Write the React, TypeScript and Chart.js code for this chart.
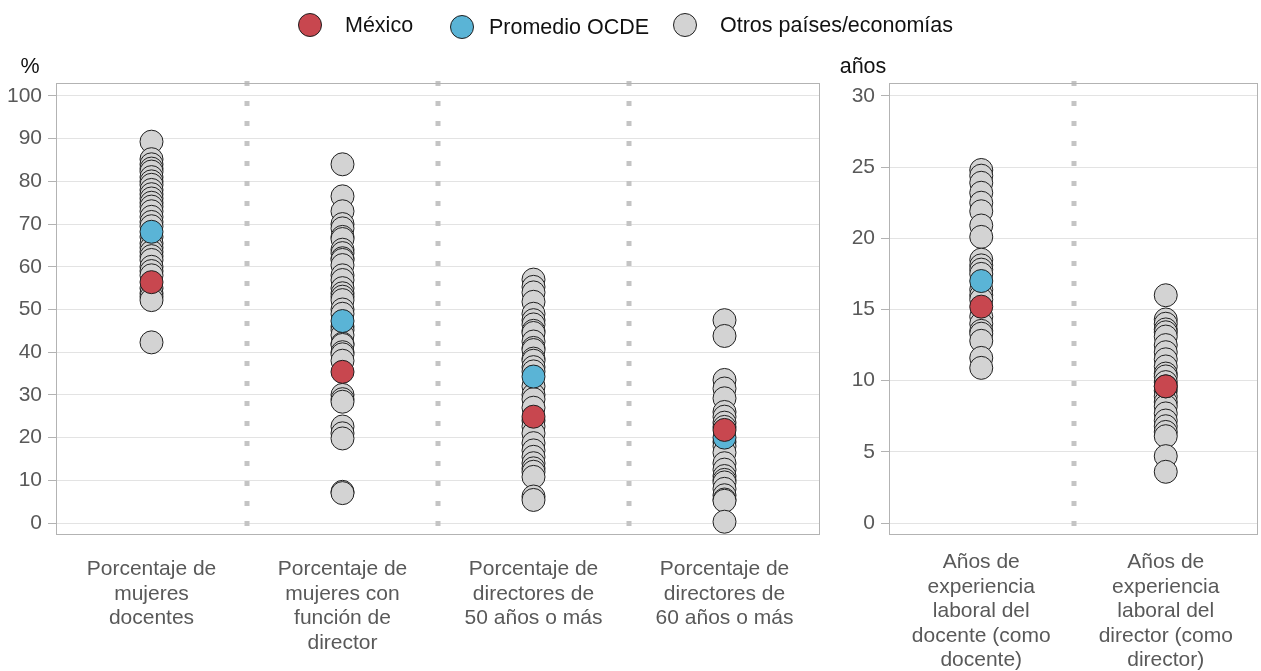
import React, { useEffect, useRef } from 'react';
import { Chart, registerables } from 'chart.js';

Chart.register(...registerables);

const FONT = "'Liberation Sans', Arial, Helvetica, sans-serif";

const seriesNames = ['México', 'Promedio OCDE', 'Otros países/economías'];
const seriesColors = ['#c8474f', '#5ab4d6', '#d3d3d3'];

const leftCategories = [
  ['Porcentaje de', 'mujeres', 'docentes'],
  ['Porcentaje de', 'mujeres con', 'función de', 'director'],
  ['Porcentaje de', 'directores de', '50 años o más'],
  ['Porcentaje de', 'directores de', '60 años o más'],
];
const rightCategories = [
  ['Años de', 'experiencia', 'laboral del', 'docente (como', 'docente)'],
  ['Años de', 'experiencia', 'laboral del', 'director (como', 'director)'],
];

const leftTicks = [0, 10, 20, 30, 40, 50, 60, 70, 80, 90, 100];
const rightTicks = [0, 5, 10, 15, 20, 25, 30];

const mexicoLeft = [56.4, 35.4, 24.9, 21.8];
const ocdeLeft = [68.2, 47.3, 34.3, 20.0];
const mexicoRight = [15.2, 9.6];
const ocdeRight = [17.0, 9.6];

const otrosDocentesMujeres = [89.3, 85.2, 84, 83, 82.3, 81, 80, 79.2, 78, 77, 76, 75, 74.1, 73, 71.7, 70.5, 69.5, 67, 65.5, 64.5, 63.5, 62.5, 61.6, 60, 59, 58, 55, 53.8, 53, 52.2, 42.3];
const otrosDirectorasMujeres = [84, 76.5, 73, 70, 69, 67, 66.5, 64, 63.2, 62, 61.6, 60.4, 58, 56.9, 55, 53.8, 53, 52.2, 50, 49, 46, 45.2, 44, 42, 41.7, 40, 39.5, 38, 30, 29, 28.4, 22.6, 21, 19.8, 7.3, 7];
const otrosDirectores50 = [57, 55.3, 54, 51.8, 49, 47.5, 46.5, 45, 44.5, 42.5, 41, 40.5, 38.5, 38, 36.5, 35.5, 32, 30, 29, 27, 24, 22.6, 21, 18.7, 17, 15.5, 14, 12.8, 12, 10.8, 6.2, 5.4];
const otrosDirectores60 = [47.5, 43.8, 33.5, 31.5, 29.2, 26, 24.9, 23.5, 22.5, 19, 18, 16.5, 14, 12.5, 11, 10.1, 9.5, 8, 6.5, 5.5, 5.2, 0.3];
const otrosExpDocente = [24.8, 24.4, 23.9, 23.2, 22.5, 21.9, 20.9, 20.1, 18.5, 18.1, 17.8, 17.5, 16.4, 16.0, 15.7, 14.5, 14.0, 13.5, 13.3, 12.8, 11.6, 10.9];
const otrosExpDirector = [16.0, 14.3, 14.0, 13.6, 13.4, 13.1, 12.5, 12.0, 11.5, 11.0, 10.5, 10.3, 9.9, 9.3, 8.9, 8.5, 8.2, 7.7, 7.2, 6.8, 6.4, 6.1, 4.7, 3.6];

const leftUnit = '%';
const rightUnit = 'años';

const panelDeco = {
  id: 'panelDeco',
  beforeDatasetsDraw(chart: any, _args: any, opts: any) {
    const { ctx, chartArea: a, scales } = chart;
    const x = scales.x;
    ctx.save();
    ctx.strokeStyle = '#c4c4c4';
    ctx.lineWidth = 5;
    ctx.setLineDash([5, 15]);
    for (let i = 0; i < opts.n - 1; i++) {
      const px = Math.round(x.getPixelForValue(i + 0.5));
      ctx.beginPath();
      ctx.moveTo(px, a.top - 2);
      ctx.lineTo(px, a.bottom);
      ctx.stroke();
    }
    ctx.setLineDash([]);
    ctx.strokeStyle = '#b3b3b3';
    ctx.lineWidth = 1;
    ctx.strokeRect(Math.round(a.left) + 0.5, Math.round(a.top) + 0.5, Math.round(a.right - a.left) - 1, Math.round(a.bottom - a.top) - 1);
    ctx.restore();
  },
  afterDraw(chart: any, _args: any, opts: any) {
    const { ctx, chartArea: a } = chart;
    ctx.save();
    ctx.fillStyle = '#111';
    ctx.font = `21.5px ${FONT}`;
    ctx.textAlign = 'center';
    ctx.textBaseline = 'middle';
    ctx.fillText(opts.unit, a.left - 26, a.top - 16);
    ctx.restore();
  },
};

function buildChart(canvas: HTMLCanvasElement, p: any) {
  const toPts = (vals: number[]) => vals.map((v, i) => ({ x: i, y: v }));
  const otrosPts = p.otros.flatMap((col: number[], i: number) => col.map((v) => ({ x: i, y: v })));
  const ds = (idx: number, data: any[]) => ({
    label: seriesNames[idx],
    data,
    backgroundColor: seriesColors[idx],
    borderColor: '#1f1f1f',
    borderWidth: 1,
    pointRadius: 11.5,
    pointHoverRadius: 11.5,
  });
  return new Chart(canvas, {
    type: 'scatter',
    data: {
      datasets: [ds(0, toPts(p.mexico)), ds(1, toPts(p.ocde)), ds(2, otrosPts)],
    },
    options: {
      responsive: false,
      animation: false,
      devicePixelRatio: 1,
      events: [],
      layout: { autoPadding: false, padding: { top: p.padTop, right: p.padRight, left: 0, bottom: 0 } },
      plugins: {
        legend: { display: false },
        tooltip: { enabled: false },
        panelDeco: { n: p.categories.length, unit: p.unit },
      } as any,
      scales: {
        x: {
          type: 'linear',
          min: -0.5,
          max: p.categories.length - 0.5,
          afterBuildTicks: (s: any) => {
            s.ticks = p.categories.map((_: any, i: number) => ({ value: i }));
          },
          afterFit: (s: any) => {
            s.height = p.xHeight;
            s.paddingLeft = 0;
            s.paddingRight = 0;
          },
          ticks: {
            autoSkip: false,
            maxRotation: 0,
            minRotation: 0,
            padding: p.xPad,
            color: '#595959',
            font: { family: FONT, size: 21, lineHeight: 1.17 },
            callback: (_v: any, i: number) => p.categories[i],
          },
          grid: { display: false, drawTicks: false },
          border: { display: false },
        },
        y: {
          min: p.yMin,
          max: p.yMax,
          afterBuildTicks: (s: any) => {
            s.ticks = p.ticks.map((v: number) => ({ value: v }));
          },
          afterFit: (s: any) => {
            s.width = p.yWidth;
          },
          ticks: {
            padding: 6,
            color: '#595959',
            font: { family: FONT, size: 21 },
          },
          grid: { color: '#e3e3e3', tickColor: '#b3b3b3', tickLength: 8, lineWidth: 1 },
          border: { display: false },
        },
      },
    } as any,
    plugins: [panelDeco],
  });
}

function LegendItem({ idx, cx, cy, textLeft }: { idx: number; cx: number; cy: number; textLeft: number }) {
  return (
    <>
      <div
        style={{
          position: 'absolute',
          left: cx - 12,
          top: cy - 12,
          width: 22,
          height: 22,
          borderRadius: '50%',
          border: '1px solid #1f1f1f',
          background: seriesColors[idx],
        }}
      />
      <div
        style={{
          position: 'absolute',
          left: textLeft,
          top: cy - 13,
          height: 26,
          lineHeight: '26px',
          fontFamily: FONT,
          fontSize: 21.5,
          color: '#111',
          whiteSpace: 'nowrap',
        }}
      >
        {seriesNames[idx]}
      </div>
    </>
  );
}

export default function App() {
  const leftRef = useRef<HTMLCanvasElement>(null);
  const rightRef = useRef<HTMLCanvasElement>(null);

  useEffect(() => {
    const left = buildChart(leftRef.current!, {
      categories: leftCategories,
      mexico: mexicoLeft,
      ocde: ocdeLeft,
      otros: [otrosDocentesMujeres, otrosDirectorasMujeres, otrosDirectores50, otrosDirectores60],
      ticks: leftTicks,
      yMin: -2.81,
      yMax: 103.04,
      padTop: 83,
      padRight: 10,
      yWidth: 56,
      xHeight: 136,
      xPad: 22,
      unit: leftUnit,
    });
    const right = buildChart(rightRef.current!, {
      categories: rightCategories,
      mexico: mexicoRight,
      ocde: ocdeRight,
      otros: [otrosExpDocente, otrosExpDirector],
      ticks: rightTicks,
      yMin: -0.84,
      yMax: 30.91,
      padTop: 83,
      padRight: 3,
      yWidth: 59,
      xHeight: 136,
      xPad: 15,
      unit: rightUnit,
    });
    return () => {
      left.destroy();
      right.destroy();
    };
  }, []);

  return (
    <div style={{ position: 'fixed', left: 0, top: 0, width: 1261, height: 671, background: '#fff', overflow: 'hidden' }}>
      <canvas ref={leftRef} width={830} height={671} style={{ position: 'absolute', left: 0, top: 0, width: 830, height: 671 }} />
      <canvas ref={rightRef} width={431} height={671} style={{ position: 'absolute', left: 830, top: 0, width: 431, height: 671 }} />
      <LegendItem idx={0} cx={310} cy={25} textLeft={345} />
      <LegendItem idx={1} cx={462} cy={27} textLeft={489} />
      <LegendItem idx={2} cx={685} cy={25} textLeft={720} />
    </div>
  );
}
